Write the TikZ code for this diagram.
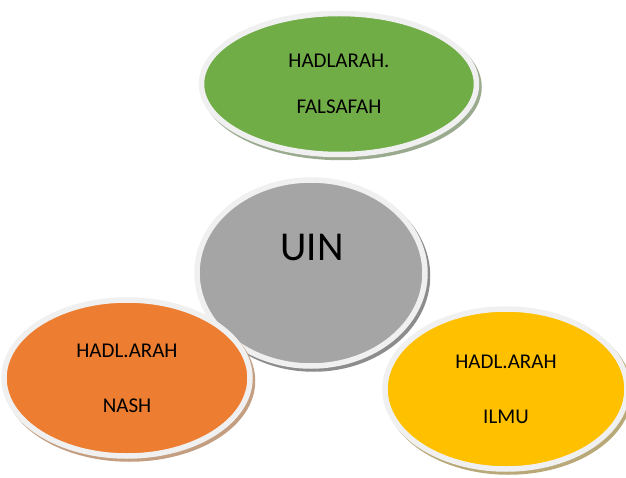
\documentclass[tikz,border=0pt]{standalone}
\usepackage{fontspec}
\setmainfont{Carlito}
\usetikzlibrary{shapes.geometric}
\definecolor{ringc}{HTML}{F0F0F0}
\definecolor{greenc}{HTML}{70AD47}
\definecolor{grayc}{HTML}{A5A5A5}
\definecolor{orangec}{HTML}{ED7D31}
\definecolor{yellowc}{HTML}{FFC000}
\definecolor{greensh}{HTML}{9AAA8E}
\definecolor{graysh}{HTML}{8C8C8C}
\definecolor{orangesh}{HTML}{C49E80}
\definecolor{yellowsh}{HTML}{B9A978}
\tikzset{
  bubble/.style={ellipse, inner sep=0pt, outer sep=0pt, draw=ringc, line width=5.5pt,
    align=center, text=black},
  shade/.style={preaction={draw=#1, fill=#1, line width=5.5pt,
    transform canvas={shift={(2.5pt,-3pt)}}}},
  twoline/.style={font=\fontsize{21}{#1}\selectfont}
}
\begin{document}
\begin{tikzpicture}[x=1pt,y=-1pt]
\useasboundingbox (0,0) rectangle (626,478);
\node[bubble, shade=greensh, fill=greenc, minimum width=275pt, minimum height=141pt,
  twoline=46] (falsafah) at (339,84) {HADLARAH.\\FALSAFAH};
\node[bubble, shade=graysh, fill=grayc, minimum width=228pt, minimum height=186pt]
  (uin) at (311,273) {};
\node[font=\fontsize{41}{48}\selectfont] (uintext) at (312,247) {UIN};
\node[bubble, shade=orangesh, fill=orangec, minimum width=246pt, minimum height=156pt,
  twoline=55] (nash) at (127,378) {HADL.ARAH\\NASH};
\node[bubble, shade=yellowsh, fill=yellowc, minimum width=242pt, minimum height=160pt,
  twoline=55] (ilmu) at (506,389) {HADL.ARAH\\ILMU};
\end{tikzpicture}
\end{document}
